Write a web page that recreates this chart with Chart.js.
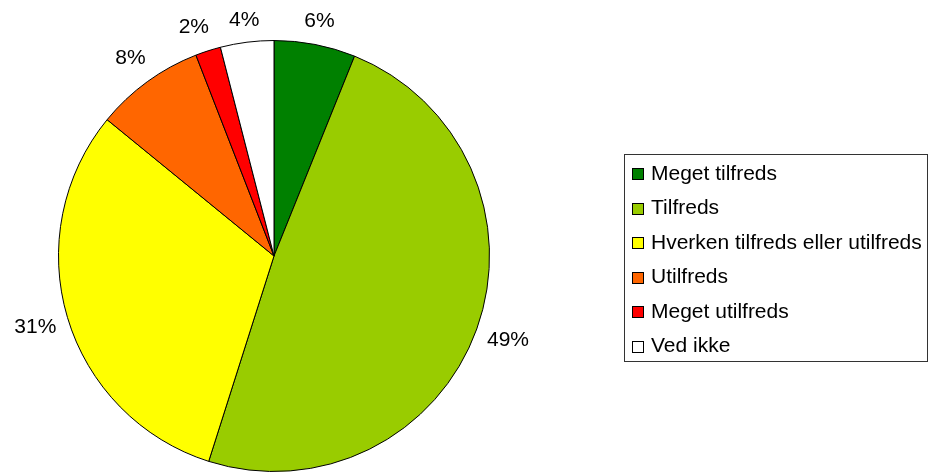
<!DOCTYPE html>
<html lang="da">
<head>
<meta charset="UTF-8">
<title>Tilfredshed</title>
<script src="https://cdn.jsdelivr.net/npm/chart.js"></script>
<style>
  html, body { margin: 0; padding: 0; background: #fff; }
  #wrap { width: 928px; height: 472px; position: relative; }
</style>
</head>
<body>
<div id="wrap"><canvas id="pieChart" width="928" height="472"></canvas></div>
<script>
// Data
const categories = ['Meget tilfreds', 'Tilfreds', 'Hverken tilfreds eller utilfreds', 'Utilfreds', 'Meget utilfreds', 'Ved ikke'];
const shares = [6.1, 48.8, 31.0, 8.2, 1.9, 4.0];
const sliceColors = ['#008000', '#99CC00', '#FFFF00', '#FF6600', '#FF0000', '#FFFFFF'];

const FONT = '21px "Liberation Sans", Arial, sans-serif';

// Percentage labels just outside each slice
const outsideLabels = {
    id: 'outsideLabels',
    afterDatasetsDraw(chart) {
        const ctx = chart.ctx;
        const meta = chart.getDatasetMeta(0);
        ctx.save();
        ctx.font = FONT;
        ctx.fillStyle = '#000';
        ctx.textAlign = 'center';
        ctx.textBaseline = 'middle';
        const pos = meta.data.map((arc, i) => {
            const p = arc.getProps(['x', 'y', 'startAngle', 'endAngle', 'outerRadius'], true);
            const mid = (p.startAngle + p.endAngle) / 2;
            const dist = p.outerRadius + 21 + 13 * Math.abs(Math.cos(mid));
            const text = Math.round(shares[i]) + '%';
            return {
                text,
                w: ctx.measureText(text).width,
                x: p.x + Math.cos(mid) * dist,
                y: p.y + Math.sin(mid) * dist
            };
        });
        // crude overlap fix: keep neighbouring labels apart, push left one outwards
        for (let i = pos.length - 1; i > 0; i--) {
            const a = pos[i - 1], b = pos[i];
            if (Math.abs(a.y - b.y) < 30 && a.x < b.x) {
                const gap = (b.x - b.w / 2) - (a.x + a.w / 2);
                if (gap < 20) a.x -= 20 - gap;
            }
        }
        pos.forEach(l => ctx.fillText(l.text, l.x, l.y));
        ctx.restore();
    }
};

// Boxed legend on the right
const boxLegend = {
    id: 'boxLegend',
    afterDraw(chart) {
        const ctx = chart.ctx;
        const left = 624, top = 154, w = 303, h = 207;
        ctx.save();
        ctx.strokeStyle = '#333';
        ctx.lineWidth = 1;
        ctx.strokeRect(left + 0.5, top + 0.5, w, h);
        ctx.font = FONT;
        ctx.textBaseline = 'middle';
        ctx.textAlign = 'left';
        categories.forEach((name, i) => {
            const cy = 174 + i * 34.5;
            ctx.fillStyle = sliceColors[i];
            ctx.fillRect(632, Math.round(cy - 6), 11, 11);
            ctx.strokeStyle = '#000';
            ctx.strokeRect(632.5, Math.round(cy - 6) + 0.5, 11, 11);
            ctx.fillStyle = '#000';
            ctx.fillText(name, 651, cy);
        });
        ctx.restore();
    }
};

new Chart(document.getElementById('pieChart'), {
    type: 'pie',
    data: {
        labels: categories,
        datasets: [{
            data: shares,
            backgroundColor: sliceColors,
            borderColor: '#000',
            borderWidth: 1
        }]
    },
    options: {
        responsive: false,
        animation: false,
        layout: { padding: { left: 58, right: 438, top: 40, bottom: 0 } },
        plugins: {
            legend: { display: false },
            tooltip: { enabled: false }
        }
    },
    plugins: [outsideLabels, boxLegend]
});
</script>
</body>
</html>
